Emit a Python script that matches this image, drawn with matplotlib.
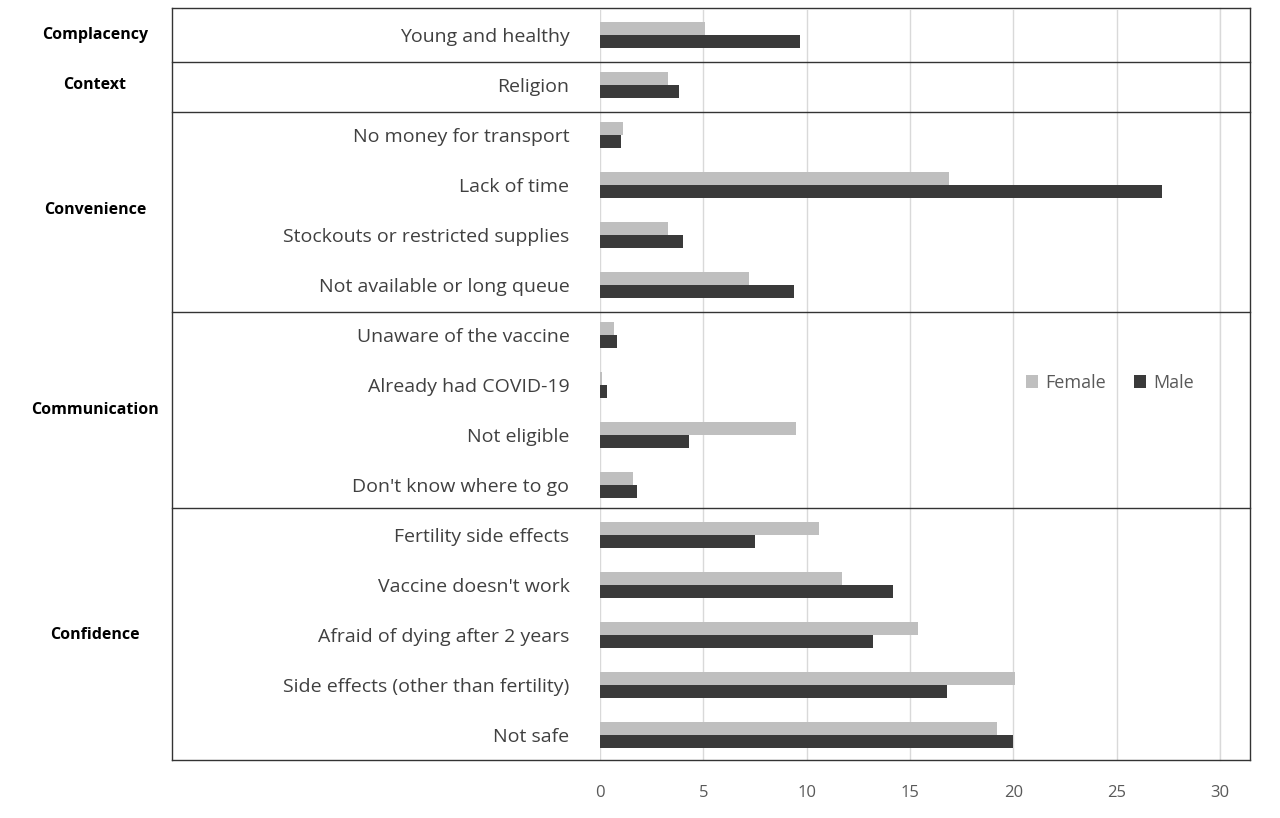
import matplotlib.pyplot as plt
from matplotlib.lines import Line2D

categories = ["Young and healthy", "Religion", "No money for transport", "Lack of time",
              "Stockouts or restricted supplies", "Not available or long queue",
              "Unaware of the vaccine", "Already had COVID-19", "Not eligible",
              "Don't know where to go", "Fertility side effects", "Vaccine doesn't work",
              "Afraid of dying after 2 years", "Side effects (other than fertility)", "Not safe"]
female = [5.1, 3.3, 1.1, 16.9, 3.3, 7.2, 0.7, 0.1, 9.5, 1.6, 10.6, 11.7, 15.4, 20.1, 19.2]
male = [9.7, 3.8, 1.0, 27.2, 4.0, 9.4, 0.8, 0.35, 4.3, 1.8, 7.5, 14.2, 13.2, 16.8, 20.0]
groups = [("Complacency", 0, 0), ("Context", 1, 1), ("Convenience", 2, 5),
          ("Communication", 6, 9), ("Confidence", 10, 14)]

plt.rcParams['font.family'] = ['Open Sans', 'DejaVu Sans']

W, H = 1280, 818
fig = plt.figure(figsize=(W / 100, H / 100), dpi=100)
ax = fig.add_axes([600 / W, 58 / H, 620 / W, 750 / H])

y = range(len(categories))
ax.barh([i - 0.13 for i in y], female, height=0.26, color="#bfbfbf", label="Female", zorder=3)
ax.barh([i + 0.13 for i in y], male, height=0.26, color="#3a3a3a", label="Male", zorder=3)
ax.set_ylim(len(categories) - 0.5, -0.5)
ax.set_xlim(0, 30)
ax.set_xticks(range(0, 31, 5))
ax.grid(axis="x", color="#d9d9d9", lw=1, zorder=0)
for s in ax.spines.values():
    s.set_visible(False)
ax.tick_params(axis="x", length=0, labelsize=12, labelcolor="#595959", pad=18)
ax.set_yticks(list(y))
ax.set_yticklabels(categories, fontsize=14, color="#404040")
ax.tick_params(axis="y", length=0, pad=22)
fig.add_artist(Line2D([1220 / W, 1220 / W], [1 - 8 / H, 1 - 760 / H], color="#d9d9d9", lw=1))

ax.legend(loc="center", bbox_to_anchor=((1110 - 600) / 620, (760 - 383) / 750), ncol=2,
          frameon=False, fontsize=13, labelcolor="#595959", handlelength=0.7,
          handleheight=0.7, columnspacing=1.5, handletextpad=0.4)

def fy(py):
    return 1 - py / H

lc = "#333333"
for py in [8, 62, 112, 312, 508, 760]:
    fig.add_artist(Line2D([172 / W, 1250 / W], [fy(py), fy(py)], color=lc, lw=1))
for px in [172, 1250]:
    fig.add_artist(Line2D([px / W, px / W], [fy(8), fy(760)], color=lc, lw=1))

for name, a, b in groups:
    cy = 10 + 50 * ((a + b) / 2 + 0.5)
    fig.text(95 / W, fy(cy), name, ha="center", va="center", fontsize=11.5,
             fontweight="bold", color="black")

fig.savefig("out.png", dpi=100)
